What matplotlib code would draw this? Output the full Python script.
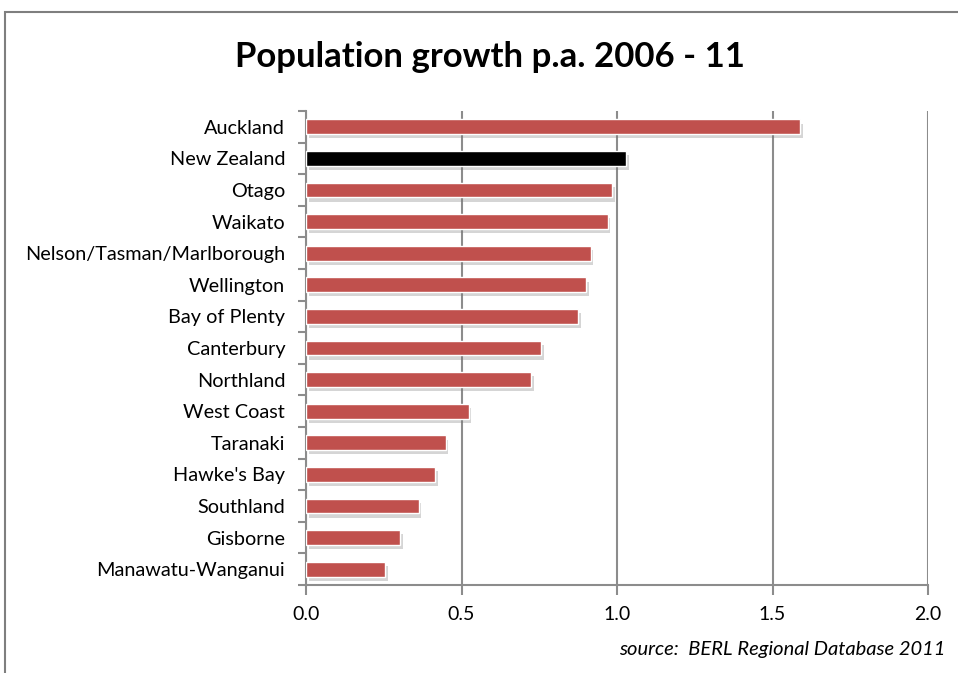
import matplotlib
matplotlib.use("Agg")
import matplotlib.pyplot as plt
import matplotlib.patheffects as pe
from matplotlib.patches import Rectangle
import numpy as np

regions = ["Auckland", "New Zealand", "Otago", "Waikato", "Nelson/Tasman/Marlborough",
           "Wellington", "Bay of Plenty", "Canterbury", "Northland", "West Coast",
           "Taranaki", "Hawke's Bay", "Southland", "Gisborne", "Manawatu-Wanganui"]
growth = [1.59, 1.03, 0.985, 0.97, 0.915, 0.90, 0.876, 0.757, 0.723, 0.523,
          0.449, 0.414, 0.362, 0.303, 0.254]
xticks = [0.0, 0.5, 1.0, 1.5, 2.0]

FONT = "Lato"
grey = "#8c8c8c"

fig = plt.figure(figsize=(9.58, 6.73), dpi=100)
fig.patch.set_facecolor("white")

# outer chart border (only top and left are visible in the crop)
fig.patches.append(Rectangle((5 / 958, -0.05), 1.2, 1 - 12 / 673 + 0.05, transform=fig.transFigure,
                             fill=False, edgecolor="#7f7f7f", linewidth=1.5))

ax = fig.add_axes([306 / 958, 1 - 585 / 673, 622 / 958, 474 / 673])

y = np.arange(len(regions))
colors = ["#000000" if r == "New Zealand" else "#C0504D" for r in regions]
bars = ax.barh(y, growth, height=0.47, color=colors, edgecolor="white", linewidth=1, zorder=3)
for b in bars:
    b.set_path_effects([pe.SimplePatchShadow(offset=(2, -3), shadow_rgbFace="#777777", alpha=0.3),
                        pe.Normal()])

ax.set_xlim(0, 2.0)
ax.set_ylim(len(regions) - 0.5, -0.5)
ax.set_xticks(xticks)
ax.set_xticklabels([f"{v:.1f}" for v in xticks], fontsize=14, fontfamily=FONT)
ax.set_yticks(y)
ax.set_yticklabels(regions, fontsize=14.3, fontfamily=FONT)
ax.set_yticks(np.arange(len(regions) + 1) - 0.5, minor=True)
ax.tick_params(axis="y", which="major", length=0, pad=15)
ax.tick_params(axis="y", which="minor", length=6, width=1.5, color=grey)
ax.tick_params(axis="x", which="major", length=7, width=1.5, color=grey, pad=8)

ax.grid(axis="x", color=grey, linewidth=1.5, zorder=0)
ax.set_axisbelow(True)
for s in ["top", "right"]:
    ax.spines[s].set_visible(False)
for s in ["left", "bottom"]:
    ax.spines[s].set_color(grey)
    ax.spines[s].set_linewidth(1.5)

fig.text(490 / 958, 1 - 57 / 673, "Population growth p.a. 2006 - 11", ha="center", va="center",
         fontsize=25, fontweight="bold", fontfamily=FONT)
fig.text(945 / 958, 1 - 649 / 673, "source:  BERL Regional Database 2011", ha="right", va="center",
         fontsize=14.5, style="italic", fontfamily=FONT)

fig.savefig("out.png", dpi=100)
